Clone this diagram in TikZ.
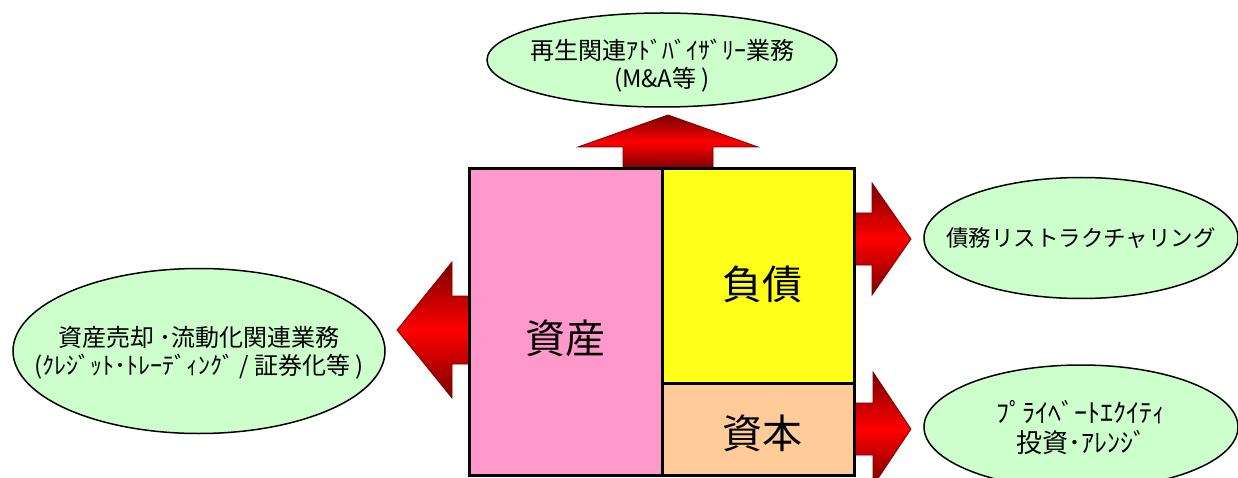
\documentclass[tikz,border=0pt]{standalone}
\usepackage{fontspec}
\setmainfont{Noto Sans CJK JP}
\usepackage{xcolor}
\usepackage{tikz}
\usetikzlibrary{shapes.geometric, backgrounds}
\definecolor{pinkbox}{HTML}{FF99CC}
\definecolor{yellowbox}{HTML}{FFFF1A}
\definecolor{peachbox}{HTML}{FFCC99}
\definecolor{bubblegreen}{HTML}{CCFFCC}
\definecolor{darkarrow}{HTML}{7A0000}
\tikzstyle{block} = [rectangle, draw=black, line width=3pt, inner sep=0pt, outer sep=0pt]
\tikzstyle{bigtext} = [font=\fontsize{40}{48}\selectfont]
\tikzstyle{bubble} = [ellipse, draw=black, line width=1.5pt, fill=bubblegreen, inner sep=0pt]
\tikzstyle{bubbletext} = [align=center, font=\fontsize{24}{28}\selectfont]
\tikzstyle{bigarrow} = [draw=darkarrow, line width=0.8pt, top color=darkarrow, bottom color=darkarrow, middle color=red]

\begin{document}
\begin{tikzpicture}[x=1pt, y=-1pt]
   \useasboundingbox (0,0) rectangle (1238,478);
   \node (s) [block, fill=pinkbox, minimum width=193pt, minimum height=306pt, anchor=north west, label={[bigtext, yshift=-16pt]center:資産}] at (469,169) {};
   \node (f) [block, fill=yellowbox, minimum width=192pt, minimum height=214pt, anchor=north west, label={[bigtext, yshift=-8pt, xshift=4pt]center:負債}] at (s.north east) {};
   \node (h) [block, fill=peachbox, minimum width=192pt, minimum height=92pt, anchor=north west, label={[bigtext, yshift=-4pt, xshift=4pt]center:資本}] at (f.south west) {};
   \node (t) [bubble, minimum width=350pt, minimum height=94pt, label={[bubbletext, yshift=-6pt]center:再生関連ｱﾄﾞﾊﾞｲｻﾞﾘｰ業務\\(M\&A等 )}] at (662,60) {};
   \node (w) [bubble, minimum width=372pt, minimum height=165pt, label={[bubbletext, yshift=-2pt]center:資産売却 ･流動化関連業務\\(ｸﾚｼﾞｯﾄ･ﾄﾚｰﾃﾞｨﾝｸﾞ / 証券化等 )}] at (199,351) {};
   \node (e) [bubble, minimum width=314pt, minimum height=121pt, label={[bubbletext, font=\fontsize{22.5}{28}\selectfont]center:債務リストラクチャリング}] at (1081,238) {};
   \node (p) [bubble, minimum width=314pt, minimum height=124pt, label={[bubbletext, font=\fontsize{26}{30}\selectfont]center:ﾌﾟﾗｲﾍﾞｰﾄｴｸｲﾃｨ\\投資･ｱﾚﾝｼﾞ}] at (1081,427) {};
   \begin{scope}[on background layer]
   % block arrows out of the balance sheet
   \shadedraw [bigarrow] (s.north east) ++(-39,0) -- ++(0,-22) -- ++(-45,0) -- ++(90,-32) -- ++(90,32) -- ++(-45,0) -- ++(0,22) -- cycle;
   \shadedraw [bigarrow] (s.west) ++(0,-26) -- ++(-17,0) -- ++(0,-34) -- ++(-55,68) -- ++(55,68) -- ++(0,-34) -- ++(17,0) -- cycle;
   \shadedraw [bigarrow] (f.east) ++(0,-63) -- ++(18,0) -- ++(0,-30) -- ++(39,56) -- ++(-39,56) -- ++(0,-30) -- ++(-18,0) -- cycle;
   \shadedraw [bigarrow] (h.east) ++(0,-26) -- ++(19,0) -- ++(0,-31) -- ++(38,57) -- ++(-38,57) -- ++(0,-31) -- ++(-19,0) -- cycle;
   \end{scope}
\end{tikzpicture}
\end{document}
